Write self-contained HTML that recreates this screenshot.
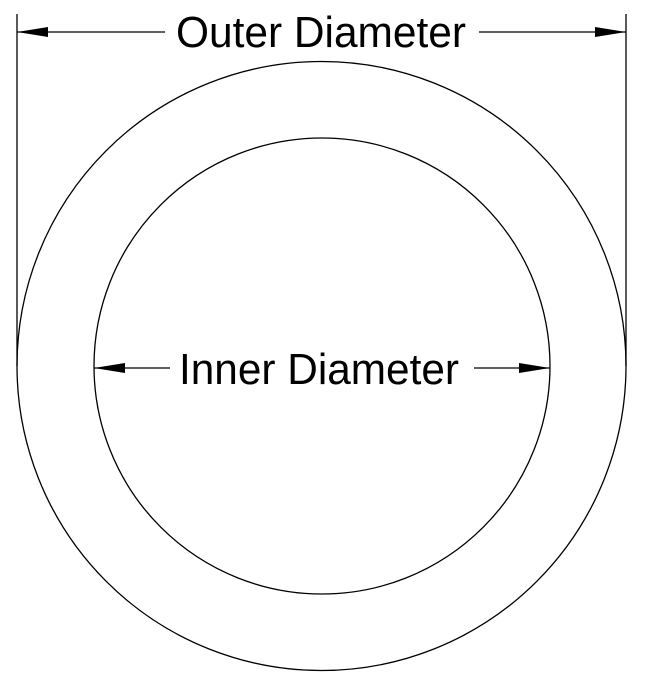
<!DOCTYPE html>
<html><head><style>html,body{margin:0;padding:0;background:#fff;}svg{display:block}</style></head>
<body>
<svg width="645" height="688" viewBox="0 0 645 688" xmlns="http://www.w3.org/2000/svg">
<g fill="none" stroke="#000" stroke-width="1.3">
<circle cx="321.5" cy="366" r="304.5"/>
<circle cx="322" cy="366" r="228"/>
<line x1="17" y1="14" x2="17" y2="366"/>
<line x1="626" y1="14" x2="626" y2="366"/>
<line x1="17" y1="32" x2="165" y2="32"/>
<line x1="479" y1="32" x2="626" y2="32"/>
<line x1="94" y1="368" x2="170" y2="368"/>
<line x1="474" y1="368" x2="550" y2="368"/>
</g>
<g fill="#000">
<polygon points="17,32 48,27 48,37"/>
<polygon points="626,32 595,27 595,37"/>
<polygon points="94,368 125,363 125,373"/>
<polygon points="550,368 519,363 519,373"/>
</g>
<g font-family="Liberation Sans, sans-serif" font-size="44" fill="#000" text-anchor="middle">
<text x="321" y="47" textLength="290" lengthAdjust="spacingAndGlyphs">Outer Diameter</text>
<text x="319" y="384" textLength="280" lengthAdjust="spacingAndGlyphs">Inner Diameter</text>
</g>
</svg>
</body></html>
